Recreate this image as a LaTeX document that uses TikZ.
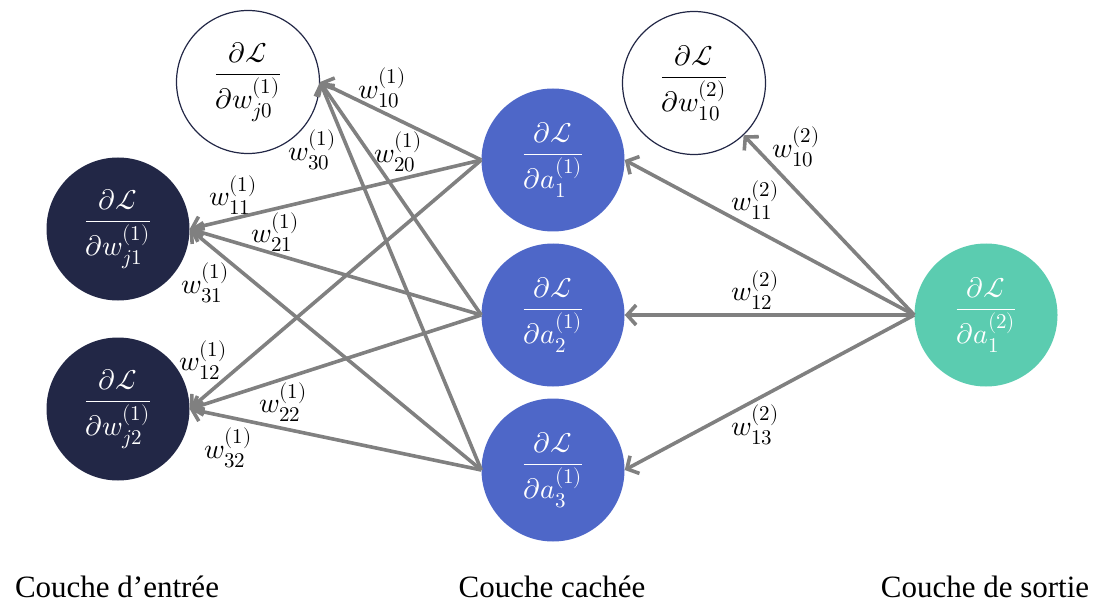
\documentclass[tikz,border=0pt]{standalone}
\usepackage{amsmath}
\usepackage{fontspec}
\usepackage{unicode-math}
\setmainfont{Liberation Serif}
\setmathfont{Latin Modern Math}
\DeclareMathSizes{28}{28}{21}{16}
\usetikzlibrary{arrows.meta}
\definecolor{navy}{RGB}{34,39,70}
\definecolor{hblue}{RGB}{78,103,200}
\definecolor{ogreen}{RGB}{91,204,176}
\definecolor{agray}{RGB}{128,128,128}
\tikzset{
  neuron/.style={circle, minimum size=143pt, inner sep=0pt, font=\fontsize{28}{32}\selectfont},
  wnode/.style={neuron, fill=white, draw=navy, line width=1.2pt, text=black},
  inode/.style={neuron, fill=navy, text=white},
  hnode/.style={neuron, fill=hblue, text=white},
  onode/.style={neuron, fill=ogreen, text=white},
  arr/.style={draw=agray, line width=3.6pt, -{Straight Barb[length=9pt,width=20pt,line width=3.6pt]}},
  lab/.style={inner sep=0pt, font=\fontsize{28}{32}\selectfont},
  layer/.style={inner sep=0pt, anchor=base, font=\fontsize{31}{34}\selectfont}
}
\begin{document}
\begin{tikzpicture}[x=1pt,y=-1pt]
\useasboundingbox (0,0) rectangle (1095,604);
% nodes
\node[wnode] (w0) at (248,82) {$\dfrac{\partial\mathcal{L}}{\partial w_{j0}^{(1)}}$};
\node[inode] (w1) at (118,229) {$\dfrac{\partial\mathcal{L}}{\partial w_{j1}^{(1)}}$};
\node[inode] (w2) at (118,409) {$\dfrac{\partial\mathcal{L}}{\partial w_{j2}^{(1)}}$};
\node[hnode] (h1) at (553,160) {$\dfrac{\partial\mathcal{L}}{\partial a_{1}^{(1)}}$};
\node[hnode] (h2) at (553,315) {$\dfrac{\partial\mathcal{L}}{\partial a_{2}^{(1)}}$};
\node[hnode] (h3) at (553,470) {$\dfrac{\partial\mathcal{L}}{\partial a_{3}^{(1)}}$};
\node[wnode] (v0) at (694,83) {$\dfrac{\partial\mathcal{L}}{\partial w_{10}^{(2)}}$};
\node[onode] (o1) at (986,315) {$\dfrac{\partial\mathcal{L}}{\partial a_{1}^{(2)}}$};
% connectors hidden -> input
\foreach \h in {h1,h2,h3}{
  \foreach \t in {w0,w1,w2}{
    \draw[arr] (\h.west) -- (\t.east);
  }
}
% connectors output -> hidden
\draw[arr] (o1.west) -- (v0);
\draw[arr] (o1.west) -- (h1.east);
\draw[arr] (o1.west) -- (h2.east);
\draw[arr] (o1.west) -- (h3.east);
% labels
\node[lab] (l10) at (382,88) {$w_{10}^{(1)}$};
\node[lab] (l30) at (312,150) {$w_{30}^{(1)}$};
\node[lab] (l20) at (398,152) {$w_{20}^{(1)}$};
\node[lab] (l11) at (233,195) {$w_{11}^{(1)}$};
\node[lab] (l21) at (275,232) {$w_{21}^{(1)}$};
\node[lab] (l31) at (205,283) {$w_{31}^{(1)}$};
\node[lab] (l12) at (203,360) {$w_{12}^{(1)}$};
\node[lab] (l22) at (283,402) {$w_{22}^{(1)}$};
\node[lab] (l32) at (228,448) {$w_{32}^{(1)}$};
\node[lab] (m10) at (796,147) {$w_{10}^{(2)}$};
\node[lab] (m11) at (755,200) {$w_{11}^{(2)}$};
\node[lab] (m12) at (755,290) {$w_{12}^{(2)}$};
\node[lab] (m13) at (755,425) {$w_{13}^{(2)}$};
% layer titles
\node[layer] (t1) at (117,597) {Couche d’entrée};
\node[layer] (t2) at (552,597) {Couche cachée};
\node[layer] (t3) at (985,597) {Couche de sortie};
\end{tikzpicture}
\end{document}
